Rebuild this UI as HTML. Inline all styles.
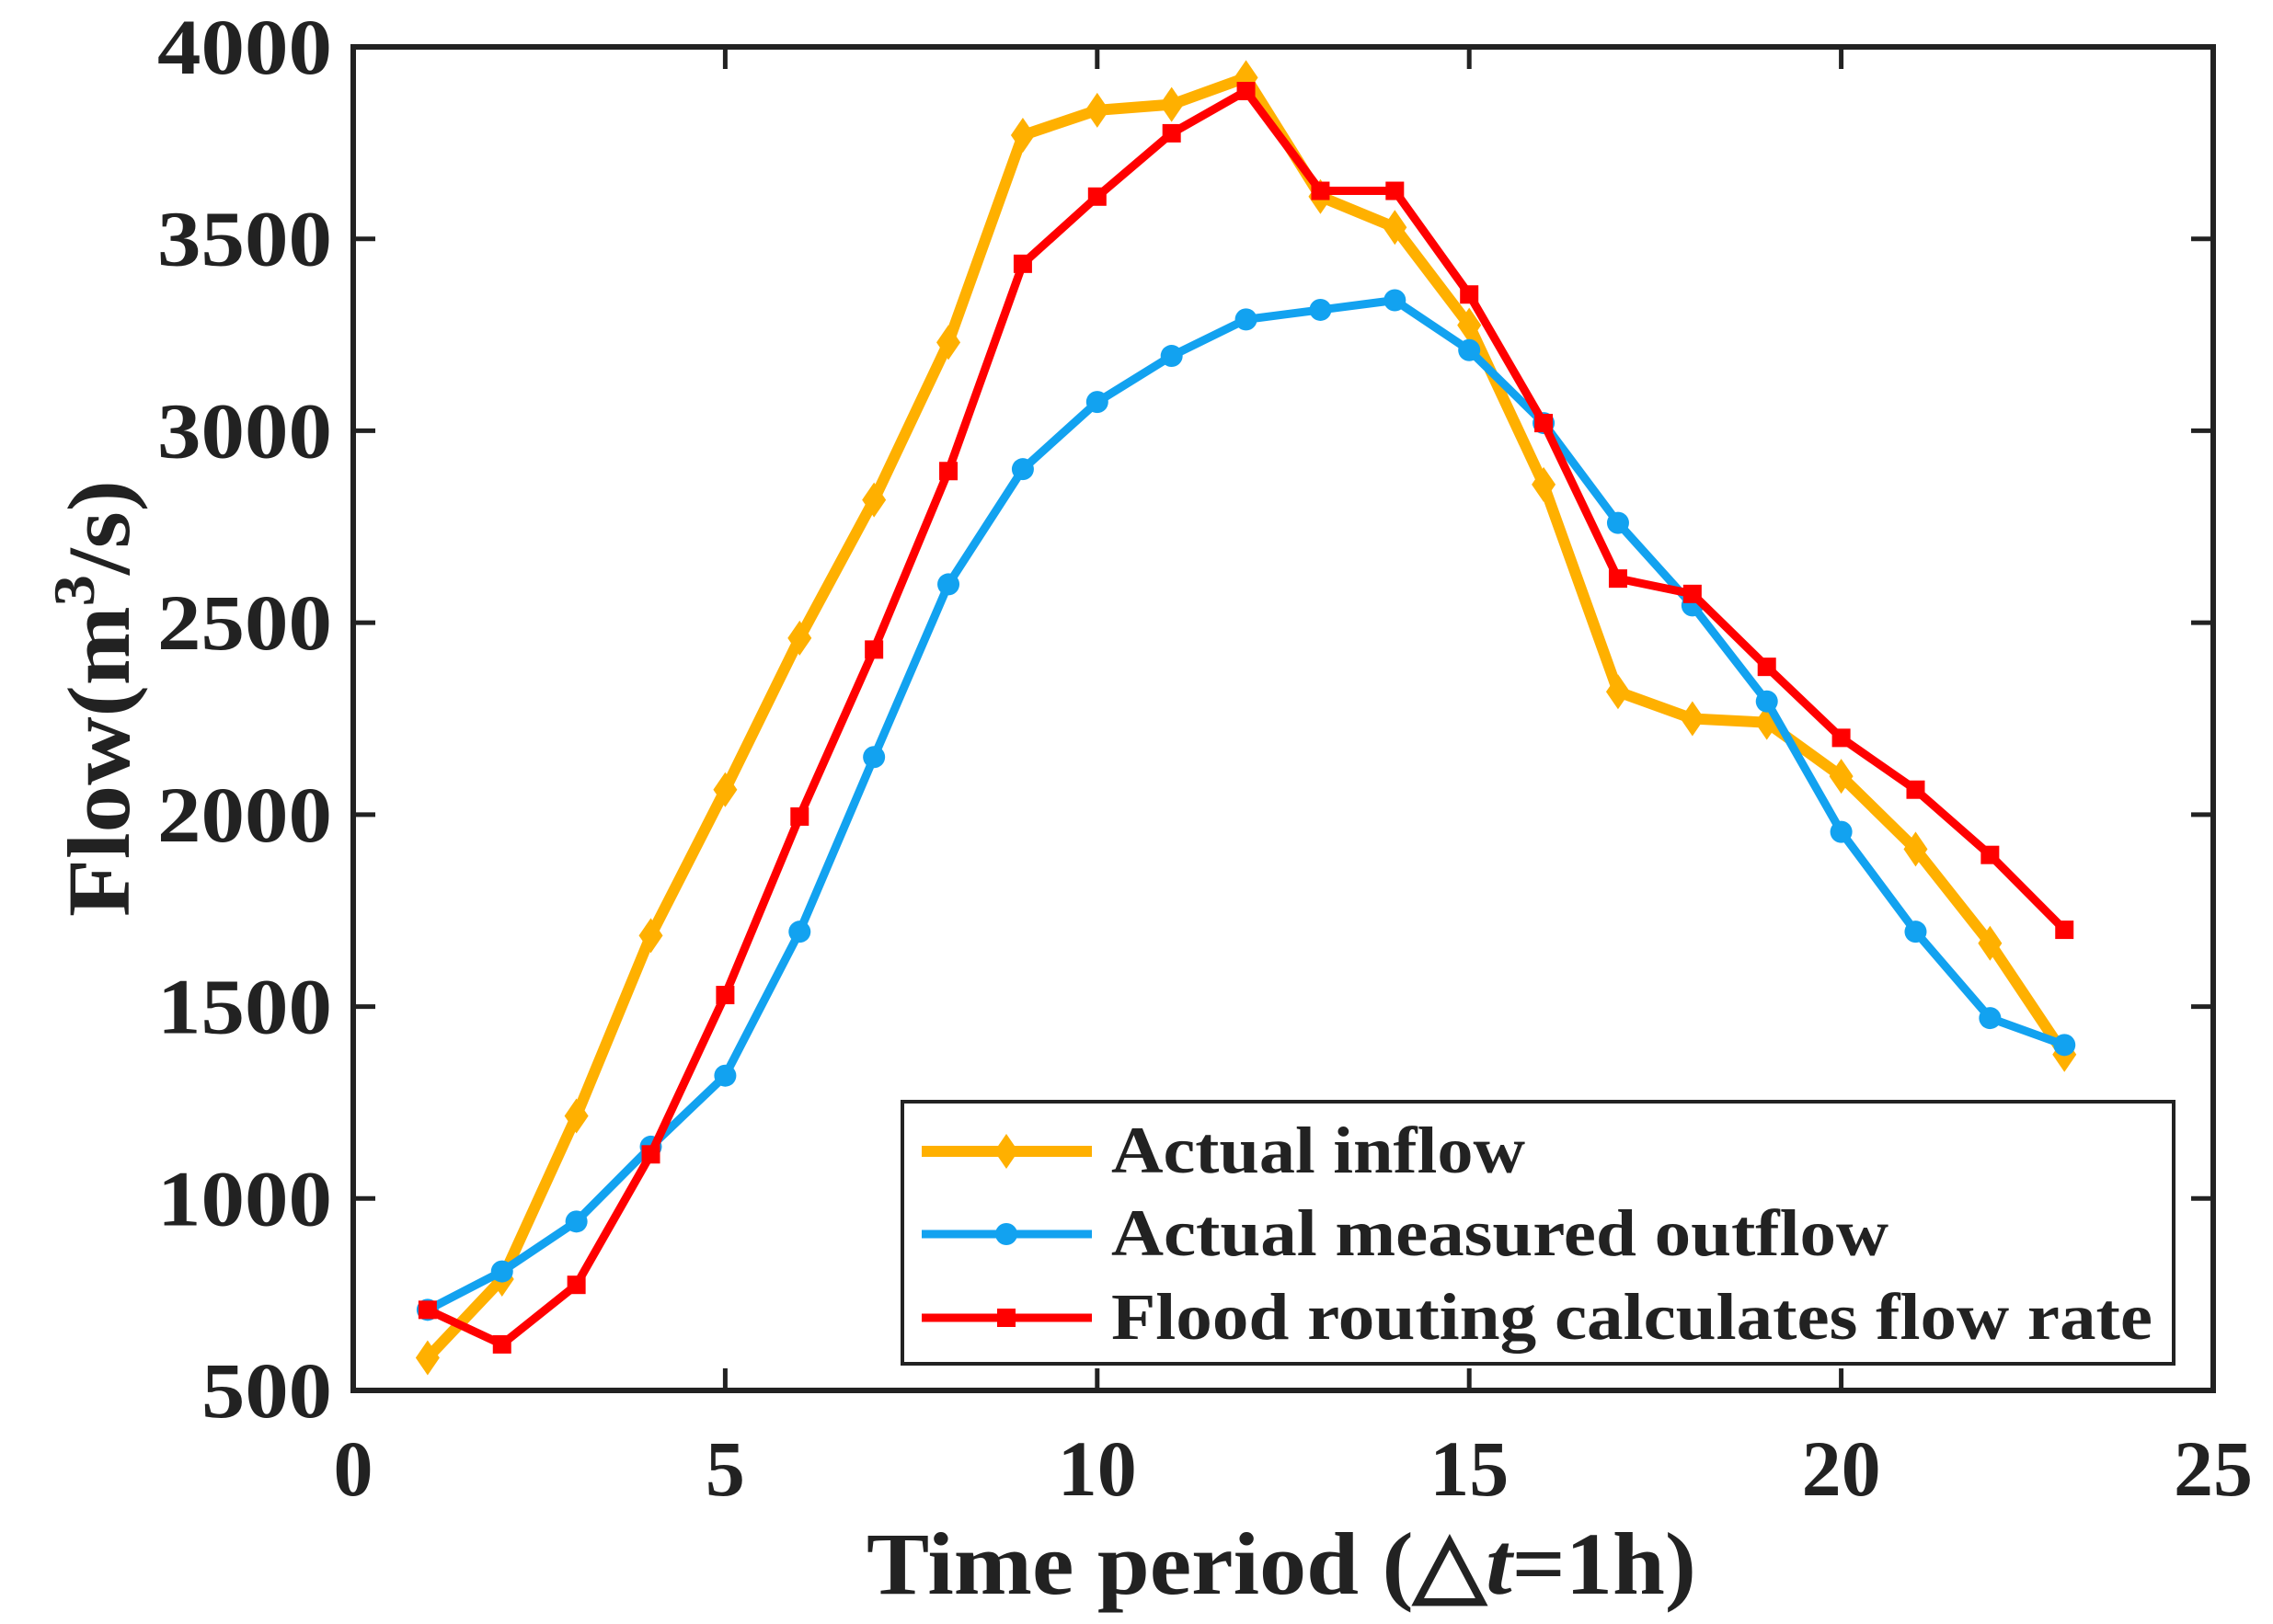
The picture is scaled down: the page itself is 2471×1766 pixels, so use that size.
<!DOCTYPE html>
<html><head><meta charset="utf-8"><style>
html,body{margin:0;padding:0;background:#fff;}
svg{display:block;font-family:"Liberation Serif",serif;font-weight:bold;}
</style></head><body>
<svg id="chart" width="2471" height="1766" viewBox="0 0 2471 1766" xmlns="http://www.w3.org/2000/svg">
<g id="grid"></g>
<g id="series"></g>
<g id="axes"></g>
</svg>
<script>
const xTicks=[0,5,10,15,20,25];
const yTicks=[500,1000,1500,2000,2500,3000,3500,4000];
const periods=[1,2,3,4,5,6,7,8,9,10,11,12,13,14,15,16,17,18,19,20,21,22,23];
const inflow=[585,790,1215,1685,2065,2460,2820,3230,3770,3835,3850,3920,3610,3530,3275,2860,2320,2250,2240,2100,1910,1665,1375];
const outflow=[710,810,940,1135,1320,1695,2150,2600,2900,3075,3195,3290,3315,3340,3210,3020,2760,2545,2295,1955,1695,1470,1400];
const routing=[710,620,775,1115,1530,1995,2430,2895,3435,3610,3775,3885,3625,3625,3355,3020,2615,2575,2385,2200,2065,1895,1700];

const NS="http://www.w3.org/2000/svg";
const L=384,R=2406,T=51,B=1512;
const X=v=>L+(v-0)/(25-0)*(R-L);
const Y=v=>B-(v-500)/(4000-500)*(B-T);
function mk(tag,attrs,parent){const e=document.createElementNS(NS,tag);for(const k in attrs)e.setAttribute(k,attrs[k]);parent.appendChild(e);return e;}
const axes=document.getElementById('axes');
const ser=document.getElementById('series');

const defs=[
 {d:inflow,c:"#FFB000",w:12,m:"diamond",name:"inflow"},
 {d:outflow,c:"#12A2F0",w:9,m:"circle",name:"outflow"},
 {d:routing,c:"#FF0000",w:9,m:"square",name:"routing"}
];
function marker(type,x,y,c,g){
 let e;
 if(type==="diamond"){e=mk('polygon',{points:`${x},${y-19} ${x+13},${y} ${x},${y+19} ${x-13},${y}`,fill:c},g);}
 else if(type==="circle"){e=mk('circle',{cx:x,cy:y,r:12,fill:c},g);}
 else {e=mk('rect',{x:x-10,y:y-10,width:20,height:20,fill:c},g);}
 return e;
}
defs.forEach(s=>{
 const g=mk('g',{},ser);
 
 
 const pts=s.d.map((v,i)=>X(periods[i])+","+Y(v)).join(" ");
 const pl=mk('polyline',{points:pts,fill:"none",stroke:s.c,"stroke-width":s.w,"stroke-linejoin":"round"},g);
 
 
 s.d.forEach((v,i)=>{
  const m=marker(s.m,X(periods[i]),Y(v),s.c,g);
  
  
 });
});

const box=mk('rect',{x:L,y:T,width:R-L,height:B-T,fill:"none",stroke:"#222","stroke-width":6},axes);


xTicks.forEach(t=>{
 const x=X(t);
 mk('line',{x1:x,y1:B,x2:x,y2:B-24,stroke:"#222","stroke-width":5},axes);
 mk('line',{x1:x,y1:T,x2:x,y2:T+24,stroke:"#222","stroke-width":5},axes);
 const tx=mk('text',{x:x,y:1626,"text-anchor":"middle","font-size":86,fill:"#222"},axes);
 tx.textContent=t;
 
 
});
yTicks.forEach(t=>{
 const y=Y(t);
 mk('line',{x1:L,y1:y,x2:L+24,y2:y,stroke:"#222","stroke-width":5},axes);
 mk('line',{x1:R,y1:y,x2:R-24,y2:y,stroke:"#222","stroke-width":5},axes);
 const tx=mk('text',{x:361,y:y+29,"text-anchor":"end","font-size":86,fill:"#222",textLength:t>=1000?190:142,lengthAdjust:"spacingAndGlyphs"},axes);
 tx.textContent=t;
 
 
});
</script>
<svg style="position:absolute;left:0;top:0" width="2471" height="1766" xmlns="http://www.w3.org/2000/svg" font-family="Liberation Serif, serif" font-weight="bold">
<text x="942" y="1733" font-size="96" fill="#222" textLength="902" lengthAdjust="spacingAndGlyphs">Time period   (△<tspan font-style="italic">t</tspan>=1h)</text>
<text transform="translate(140,997) rotate(-90)" x="0" y="0" font-size="96" fill="#222" textLength="475" lengthAdjust="spacingAndGlyphs">Flow(m<tspan dy="-38" font-size="64">3</tspan><tspan dy="38">/s)</tspan></text>
<g>
<rect x="981" y="1198" width="1382" height="285" fill="#fff" stroke="#222" stroke-width="4"/>
<g>
<line x1="1002" y1="1252" x2="1187" y2="1252" stroke="#FFB000" stroke-width="12"/>
<polygon points="1094,1233 1107,1252 1094,1271 1081,1252" fill="#FFB000"/>
<text x="1208" y="1275" font-size="72" fill="#222" textLength="450" lengthAdjust="spacingAndGlyphs">Actual inflow</text>
</g>
<g>
<line x1="1002" y1="1342" x2="1187" y2="1342" stroke="#12A2F0" stroke-width="9"/>
<circle cx="1094" cy="1342" r="12" fill="#12A2F0"/>
<text x="1208" y="1365" font-size="72" fill="#222" textLength="845" lengthAdjust="spacingAndGlyphs">Actual measured outflow</text>
</g>
<g>
<line x1="1002" y1="1433" x2="1187" y2="1433" stroke="#FF0000" stroke-width="9"/>
<rect x="1084" y="1423" width="20" height="20" fill="#FF0000"/>
<text x="1208" y="1456" font-size="72" fill="#222" textLength="1132" lengthAdjust="spacingAndGlyphs">Flood routing calculates flow rate</text>
</g>
</g>
</svg>
</body></html>
